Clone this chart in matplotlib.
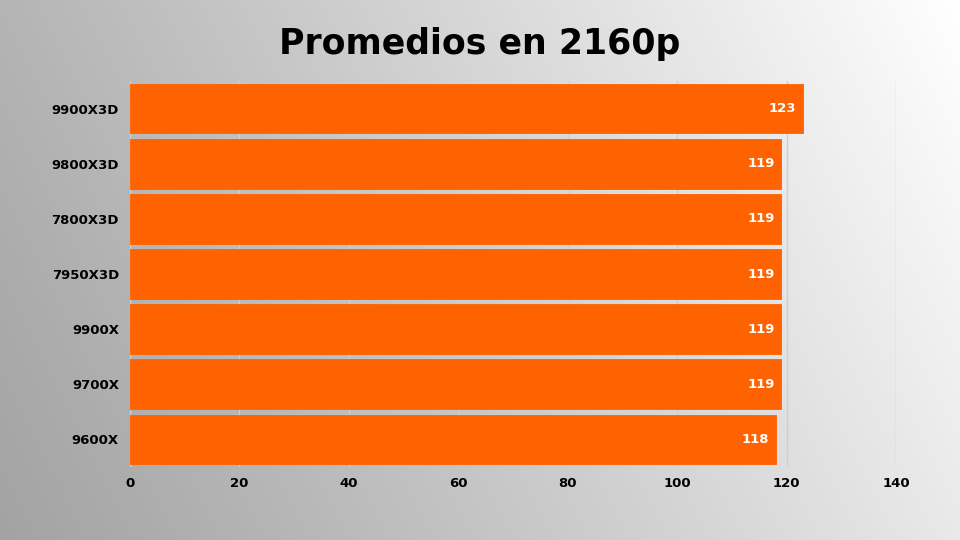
import matplotlib
matplotlib.use("Agg")
import matplotlib.pyplot as plt
import numpy as np

categories = ["9900X3D", "9800X3D", "7800X3D", "7950X3D", "9900X", "9700X", "9600X"]
values = [123, 119, 119, 119, 119, 119, 118]
xticks = [0, 20, 40, 60, 80, 100, 120, 140]
title = "Promedios en 2160p"

bar_color = "#FF6200"
plt.rcParams['font.family'] = ['DejaVu Sans']

fig = plt.figure(figsize=(9.6, 5.4), dpi=100)

# background gradient
bg = fig.add_axes([0, 0, 1, 1], zorder=-10)
xx, yy = np.meshgrid(np.linspace(0, 1, 400), np.linspace(0, 1, 200))
t = np.clip(0.78 * xx + 0.22 * yy, 0, 1)
g = 0.64 + 0.36 * t ** 1.1
img = np.dstack([g, g, g])
bg.imshow(img, extent=[0, 1, 0, 1], origin="lower", aspect="auto")
bg.axis("off")

ax = fig.add_axes([130 / 960, 1 - 467 / 540, (896 - 130) / 960, (467 - 81) / 540])
ax.set_facecolor("none")
y = np.arange(len(categories))
bars = ax.barh(y, values, height=0.9, color=bar_color, edgecolor=bar_color,
               linewidth=0.6, joinstyle="round", zorder=3)
ax.set_ylim(len(categories) - 0.5, -0.5)
ax.set_xlim(0, 140)
ax.set_yticks(y)
ax.set_yticklabels(categories, fontsize=9.5, fontweight="bold")
ax.set_xticks(xticks)
ax.set_xticklabels([str(v) for v in xticks], fontsize=9.5, fontweight="bold")
ax.tick_params(length=0, pad=8)
ax.tick_params(axis="x", pad=7)
ax.grid(axis="x", color="#cfcfcf", linewidth=1, zorder=0)
for s in ax.spines.values():
    s.set_visible(False)

for b, v in zip(bars, values):
    ax.text(v - 1.2, b.get_y() + b.get_height() / 2, str(v), color="white",
            fontsize=9.5, fontweight="bold", ha="right", va="center", zorder=4)

fig.text(0.5, 1 - 44 / 540, title, fontsize=25, fontweight="bold",
         ha="center", va="center", color="black")

fig.savefig("out.png", dpi=100)
